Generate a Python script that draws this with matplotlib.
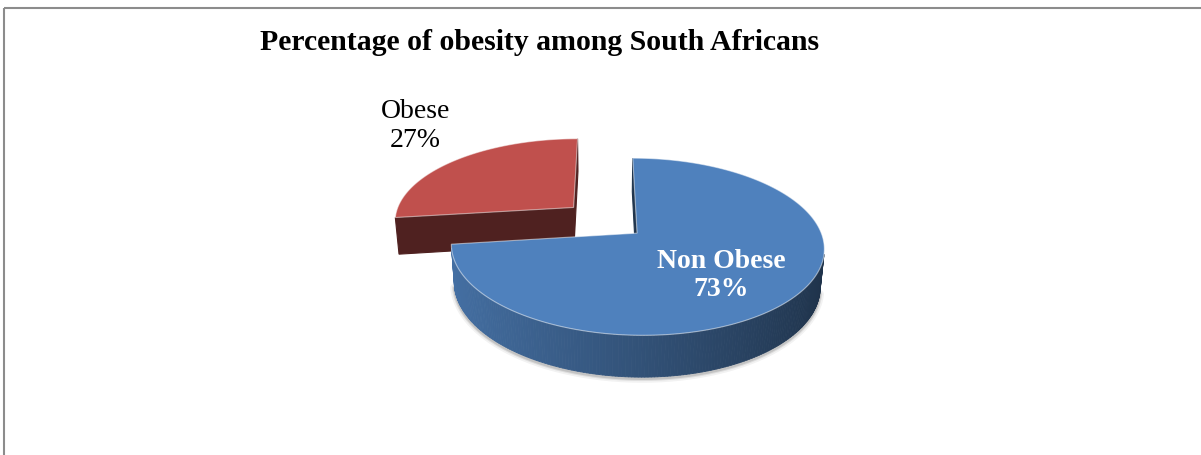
import numpy as np
import matplotlib.pyplot as plt
from matplotlib.colors import to_rgb
from matplotlib.patches import Polygon
from matplotlib.collections import PolyCollection

title = 'Percentage of obesity among South Africans'
labels = ['Non Obese', 'Obese']
values = [73, 27]
colors = ['#4f81bd', '#c0504d']
explode = [0.235, 0.235]

# camera for the 3d pie (pixel space of the figure)
elev = np.radians(27.3)
dist = 5.93
focal = 1067
cx, cy = 604.6, 220
thick = 0.234
cam = np.array([0.0, -dist*np.cos(elev), dist*np.sin(elev)])


def project(x, y, z):
    x, y, z = np.asarray(x, float), np.asarray(y, float), np.asarray(z, float)
    v = y*np.sin(elev) + z*np.cos(elev)
    w = dist + y*np.cos(elev) - z*np.sin(elev)
    return cx + focal*x/w, cy - focal*v/w


def shade(c, f):
    return tuple(np.clip(np.array(to_rgb(c))*f, 0, 1))


plt.rcParams['font.family'] = ['Liberation Serif', 'DejaVu Serif']
fig = plt.figure(figsize=(12.01, 4.55), dpi=100)
ax = fig.add_axes([0, 0, 1, 1])
ax.set_xlim(0, 1201)
ax.set_ylim(455, 0)
ax.axis('off')

# chart area border (only top and left edges show)
ax.plot([3.5, 1201], [7.5, 7.5], color='#8c8c8c', lw=1.5, solid_capstyle='butt')
ax.plot([3.5, 3.5], [7.5, 455], color='#8c8c8c', lw=1.5, solid_capstyle='butt')

fracs = np.array(values)/sum(values)
bounds = 90 - 360*np.concatenate([[0], np.cumsum(fracs)])  # clockwise from 12 o'clock

slices = []
for i in range(len(values)):
    a0, a1 = bounds[i+1], bounds[i]
    mid = np.radians((a0 + a1)/2)
    ox, oy = explode[i]*np.cos(mid), explode[i]*np.sin(mid)
    slices.append((i, a0, a1, mid, ox, oy))

# far slices first
slices.sort(key=lambda s: -s[5])

for i, a0, a1, mid, ox, oy in slices:
    col = colors[i]
    th = np.radians(np.linspace(a0, a1, 300))
    ex, ey = ox + np.cos(th), oy + np.sin(th)

    # soft shadow along the front bottom rim
    facing = (np.cos(th)*(cam[0]-ex) + np.sin(th)*(cam[1]-ey)) > 0
    if facing.any():
        sx, sy = project(ex[facing], ey[facing], -thick)
        for lw, al in [(6, 0.05), (3.5, 0.08), (2, 0.12)]:
            ax.plot(sx, sy + 1.5, color='black', lw=lw, alpha=al,
                    solid_capstyle='round', zorder=1)

    # radial side walls
    for a, nrm in [(a0, a0 - 90), (a1, a1 + 90)]:
        n = np.radians(nrm)
        if np.cos(n)*(cam[0]-ox) + np.sin(n)*(cam[1]-oy) <= 0:
            continue
        ca, sa = np.cos(np.radians(a)), np.sin(np.radians(a))
        px = [ox, ox + ca, ox + ca, ox]
        py = [oy, oy + sa, oy + sa, oy]
        pz = [0, 0, -thick, -thick]
        qx, qy = project(px, py, pz)
        wc = shade(col, 0.41)
        ax.add_patch(Polygon(np.column_stack([qx, qy]), closed=True,
                             facecolor=wc, edgecolor=wc, lw=0.8, zorder=2))

    # outer curved wall, shaded by facing direction
    quads, fcs = [], []
    for k in range(len(th) - 1):
        if not (facing[k] and facing[k+1]):
            continue
        tx, ty = project(ex[k:k+2], ey[k:k+2], [0, 0])
        bx, by = project(ex[k:k+2], ey[k:k+2], [-thick, -thick])
        quads.append([(tx[0], ty[0]), (tx[1], ty[1]), (bx[1], by[1]), (bx[0], by[0])])
        t = (th[k] + th[k+1])/2
        fcs.append(shade(col, 0.63 - 0.24*np.cos(t)))
    if quads:
        ax.add_collection(PolyCollection(quads, facecolors=fcs, edgecolors=fcs,
                                         lw=0.6, zorder=2))

    # top face
    tx, ty = project(np.r_[ox, ex], np.r_[oy, ey], np.zeros(len(ex) + 1))
    ax.add_patch(Polygon(np.column_stack([tx, ty]), closed=True, facecolor=col,
                         edgecolor=(1, 1, 1, 0.5), lw=0.8, zorder=3))

# data labels
blue = [s for s in slices if s[0] == 0][0]
_, a0, a1, mid, ox, oy = blue
lx, ly = project(ox + 0.55*np.cos(mid), oy + 0.55*np.sin(mid), 0)
ax.text(lx + 2, ly + 9, f'{labels[0]}\n{values[0]}%', color='white', fontsize=20,
        fontweight='bold', ha='center', va='center', linespacing=1.15, zorder=5)

red = [s for s in slices if s[0] == 1][0]
_, a0, a1, mid, ox, oy = red
lx, ly = project(ox + np.cos(mid), oy + np.sin(mid), 0)
ax.text(lx - 41, ly - 34, f'{labels[1]}\n{values[1]}%', color='black', fontsize=20,
        ha='center', va='center', linespacing=1.2, zorder=5)

fig.text(540/1201, 1 - 42/455, title, fontsize=21.4, fontweight='bold',
         ha='center', va='center')

fig.savefig('out.png', dpi=100)
